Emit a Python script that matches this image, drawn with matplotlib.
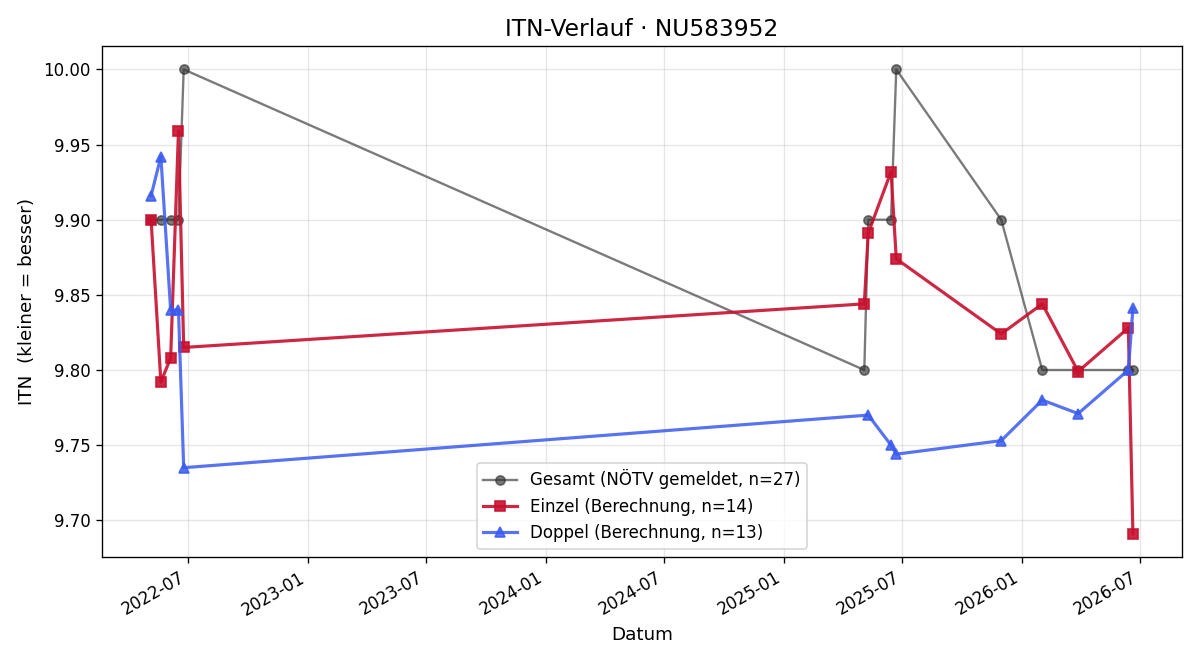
import matplotlib
matplotlib.use("Agg")
import matplotlib.pyplot as plt
import matplotlib.dates as mdates
import numpy as np

# Gesamt (NÖTV gemeldet)
gesamt_dates = ["2022-05-06", "2022-05-21", "2022-06-05", "2022-06-17", "2022-06-25",
                "2025-05-04", "2025-05-10", "2025-06-14", "2025-06-22", "2025-11-30",
                "2026-02-01", "2026-03-28", "2026-06-13", "2026-06-20"]
gesamt_vals = [9.90, 9.90, 9.90, 9.90, 10.00,
               9.80, 9.90, 9.90, 10.00, 9.90,
               9.80, 9.80, 9.80, 9.80]

# Einzel (Berechnung)
einzel_dates = ["2022-05-06", "2022-05-21", "2022-06-05", "2022-06-17", "2022-06-25",
                "2025-05-04", "2025-05-10", "2025-06-14", "2025-06-22", "2025-11-30",
                "2026-02-01", "2026-03-28", "2026-06-13", "2026-06-20"]
einzel_vals = [9.900, 9.792, 9.808, 9.959, 9.815,
               9.844, 9.891, 9.932, 9.874, 9.824,
               9.844, 9.799, 9.828, 9.691]

# Doppel (Berechnung)
doppel_dates = ["2022-05-06", "2022-05-21", "2022-06-05", "2022-06-17", "2022-06-25",
                "2025-05-10", "2025-06-14", "2025-06-22", "2025-11-30",
                "2026-02-01", "2026-03-28", "2026-06-13", "2026-06-20"]
doppel_vals = [9.916, 9.942, 9.840, 9.840, 9.735,
               9.770, 9.750, 9.744, 9.753,
               9.780, 9.771, 9.800, 9.841]

fig, ax = plt.subplots(figsize=(10, 5.5), dpi=120)

ax.plot(np.array(gesamt_dates, dtype="datetime64[D]"), gesamt_vals, marker="o", markersize=5.5,
        color="#333333", alpha=0.65, linewidth=1.4,
        label="Gesamt (NÖTV gemeldet, n=27)")
ax.plot(np.array(einzel_dates, dtype="datetime64[D]"), einzel_vals, marker="s", markersize=6,
        color="#c8102e", alpha=0.9, linewidth=1.9,
        label="Einzel (Berechnung, n=14)")
ax.plot(np.array(doppel_dates, dtype="datetime64[D]"), doppel_vals, marker="^", markersize=6,
        color="#3a5bf0", alpha=0.85, linewidth=1.9,
        label="Doppel (Berechnung, n=13)")

ax.set_title("ITN-Verlauf · NU583952", fontsize=14)
ax.set_xlabel("Datum", fontsize=11)
ax.set_ylabel("ITN  (kleiner = besser)", fontsize=11)
ax.xaxis.set_major_locator(mdates.MonthLocator(bymonth=[1, 7]))
ax.xaxis.set_major_formatter(mdates.DateFormatter("%Y-%m"))
ax.tick_params(labelsize=10)
ax.grid(True, alpha=0.3)
ax.legend(loc="lower center", fontsize=10)
fig.autofmt_xdate()
fig.subplots_adjust(left=0.085, right=0.985, top=0.930, bottom=0.156)
fig.savefig("out.png")
